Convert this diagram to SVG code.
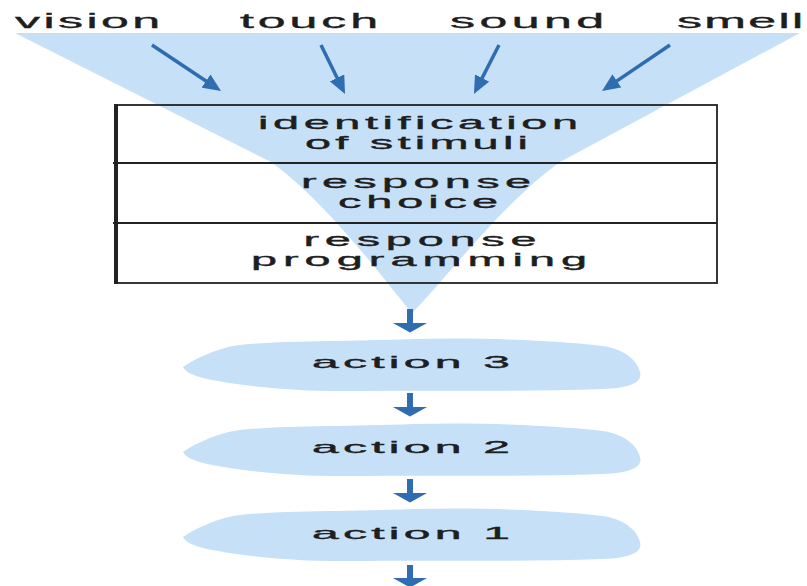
<svg xmlns="http://www.w3.org/2000/svg" xmlns:xlink="http://www.w3.org/1999/xlink" width="807" height="586" viewBox="0 0 807 586">
<style>
.funnel{fill:#c6e0f8;stroke:none}
.cloud{fill:#c6e0f8;stroke:none}
.box{fill:none;stroke:#222;stroke-width:1.8}
.boxl{stroke:#222;stroke-width:4}
.t{font-family:"Liberation Sans",Arial,Helvetica,sans-serif;fill:#1e1e1e;stroke:#1e1e1e;stroke-width:0.35;text-anchor:middle}
.top{font-size:20px}
.bx{font-size:18px}
.act{font-size:16px}
.darr{stroke:#2f6db0;stroke-width:3.5;fill:none;marker-end:url(#dh)}
.varr{stroke:#2f6db0;stroke-width:6;fill:none;marker-end:url(#vh)}
</style>
<defs>
<marker id="dh" markerUnits="userSpaceOnUse" viewBox="0 0 18 16" markerWidth="18" markerHeight="16" refX="8" refY="8" orient="auto">
<path d="M0,0 L18,8 L0,16 Z" fill="#2f6db0"/>
</marker>
<marker id="vh" markerUnits="userSpaceOnUse" viewBox="0 0 10 36" markerWidth="10" markerHeight="36" refX="0.5" refY="18" orient="auto">
<path d="M0,0 L10,18 L0,36 Z" fill="#2f6db0"/>
</marker>
<path id="cloudshape" d="M0,29 C10,22 30,12 50,8 C90,2 160,4 230,1 C300,-1 380,3 420,8 C445,12 455,25 457,34 C460,45 445,50 420,51 C340,54 250,52 170,53 C110,54 50,47 20,40 C8,37 2,33 0,29 Z"/>
</defs>
<rect width="807" height="586" fill="#fff"/>

<g id="funnel">
<path class="funnel" d="M15,33 L800,33 L560,162 C500,205 440,286 412,313 C388,285 330,205 271,162 Z"/>
</g>

<g id="labels">
<text class="t top" x="0.69" y="0" letter-spacing="1.38" transform="translate(87.5,28) scale(2.5,1)">vision</text>
<text class="t top" x="0.79" y="0" letter-spacing="1.57" transform="translate(309,28) scale(2.5,1)">touch</text>
<text class="t top" x="0.89" y="0" letter-spacing="1.78" transform="translate(527,28) scale(2.5,1)">sound</text>
<text class="t top" x="0.47" y="0" letter-spacing="0.94" transform="translate(740,28) scale(2.5,1)">smell</text>
</g>

<g id="stages">
<rect class="box" x="117" y="105" width="600" height="178"/>
<line class="boxl" x1="116" y1="104" x2="116" y2="284"/>
<line class="box" x1="113" y1="163" x2="717" y2="163"/>
<line class="box" x1="113" y1="223" x2="717" y2="223"/>
</g>
<g id="identification">
<text class="t bx" transform="scale(2.6,1)"><tspan x="161.66" y="129" letter-spacing="1.77">identification</tspan><tspan x="161.01" y="149" letter-spacing="1.64">of stimuli</tspan></text>
</g>
<g id="response-choice">
<text class="t bx" transform="scale(2.6,1)"><tspan x="161.03" y="188" letter-spacing="2.06">response</tspan><tspan x="161.72" y="208" letter-spacing="1.9">choice</tspan></text>
</g>
<g id="response-programming">
<text class="t bx" transform="scale(2.6,1)"><tspan x="162.65" y="246" letter-spacing="2.23">response</tspan><tspan x="162.31" y="266" letter-spacing="2.33">programming</tspan></text>
</g>

<g id="action3">
<use xlink:href="#cloudshape" href="#cloudshape" class="cloud" transform="translate(183,338)"/>
<text class="t act" x="0.71" y="0" letter-spacing="1.42" transform="translate(411,368) scale(3,1)">action 3</text>
</g>
<g id="action2">
<use xlink:href="#cloudshape" href="#cloudshape" class="cloud" transform="translate(183,423)"/>
<text class="t act" x="0.71" y="0" letter-spacing="1.42" transform="translate(411,453) scale(3,1)">action 2</text>
</g>
<g id="action1">
<use xlink:href="#cloudshape" href="#cloudshape" class="cloud" transform="translate(183,508)"/>
<text class="t act" x="0.71" y="0" letter-spacing="1.42" transform="translate(411,539) scale(3,1)">action 1</text>
</g>

<g id="connectors">
<line class="darr" x1="152" y1="45" x2="212.7" y2="85.5"/>
<line class="darr" x1="321" y1="45" x2="340.6" y2="85"/>
<line class="darr" x1="499" y1="45" x2="478.5" y2="85.1"/>
<line class="darr" x1="670" y1="45" x2="610.3" y2="85.4"/>
<line class="varr" x1="410" y1="309" x2="410" y2="323"/>
<line class="varr" x1="410" y1="393" x2="410" y2="407"/>
<line class="varr" x1="410" y1="479" x2="410" y2="493"/>
<line class="varr" x1="410" y1="565" x2="410" y2="578"/>
</g>
</svg>
